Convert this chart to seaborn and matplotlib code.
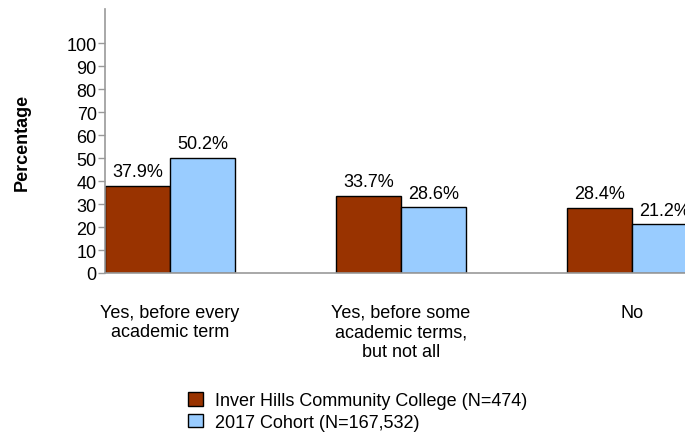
import matplotlib
matplotlib.use("Agg")
import matplotlib.pyplot as plt
import pandas as pd
import seaborn as sns

categories = ["Yes, before every\nacademic term",
              "Yes, before some\nacademic terms,\nbut not all",
              "No"]
college = [37.9, 33.7, 28.4]
cohort = [50.2, 28.6, 21.2]
series_names = ["Inver Hills Community College (N=474)", "2017 Cohort (N=167,532)"]

df = pd.DataFrame({
    "category": categories * 2,
    "value": college + cohort,
    "group": [series_names[0]] * 3 + [series_names[1]] * 3,
})

sns.set_style("white")
plt.rcParams["font.family"] = ["Liberation Sans", "DejaVu Sans"]
plt.rcParams["text.color"] = "black"
plt.rcParams["axes.labelcolor"] = "black"
plt.rcParams["xtick.labelcolor"] = "black"
plt.rcParams["ytick.labelcolor"] = "black"

fig = plt.figure(figsize=(6.85, 4.35), dpi=100)
ax = fig.add_axes([105 / 685, 1 - 274 / 435, 1 - 105 / 685, 264 / 435])

sns.barplot(data=df, x="category", y="value", hue="group",
            palette=["#993300", "#99CCFF"], width=0.563,
            edgecolor="black", linewidth=1, saturation=1, ax=ax)

for cont in ax.containers:
    ax.bar_label(cont, labels=[f"{v:.1f}%" for v in cont.datavalues],
                 padding=4, fontsize=13, color="black")

ax.set_ylim(0, 115)
ax.set_xlim(-0.2814, 2.229)
ax.set_yticks(range(0, 101, 10))
ax.tick_params(axis="y", labelsize=13, length=5, width=1, color="#999999", pad=1, left=True)
ax.tick_params(axis="x", labelsize=13, length=0, pad=22)
for lbl in ax.get_xticklabels():
    lbl.set_linespacing(1.22)

ax.set_xlabel("")
ax.set_ylabel("Percentage", fontsize=13, fontweight="bold", labelpad=26)

for s in ["top", "right"]:
    ax.spines[s].set_visible(False)
for s in ["left", "bottom"]:
    ax.spines[s].set_color("#999999")
    ax.spines[s].set_linewidth(1.2)

handles, labels = ax.get_legend_handles_labels()
ax.get_legend().remove()
fig.legend(handles, labels, loc="lower left", bbox_to_anchor=(172 / 685, -0.03),
           frameon=False, fontsize=13, handlelength=0.8, handleheight=0.8,
           handletextpad=0.7, labelspacing=0.25)

fig.savefig("out.png", dpi=100)
